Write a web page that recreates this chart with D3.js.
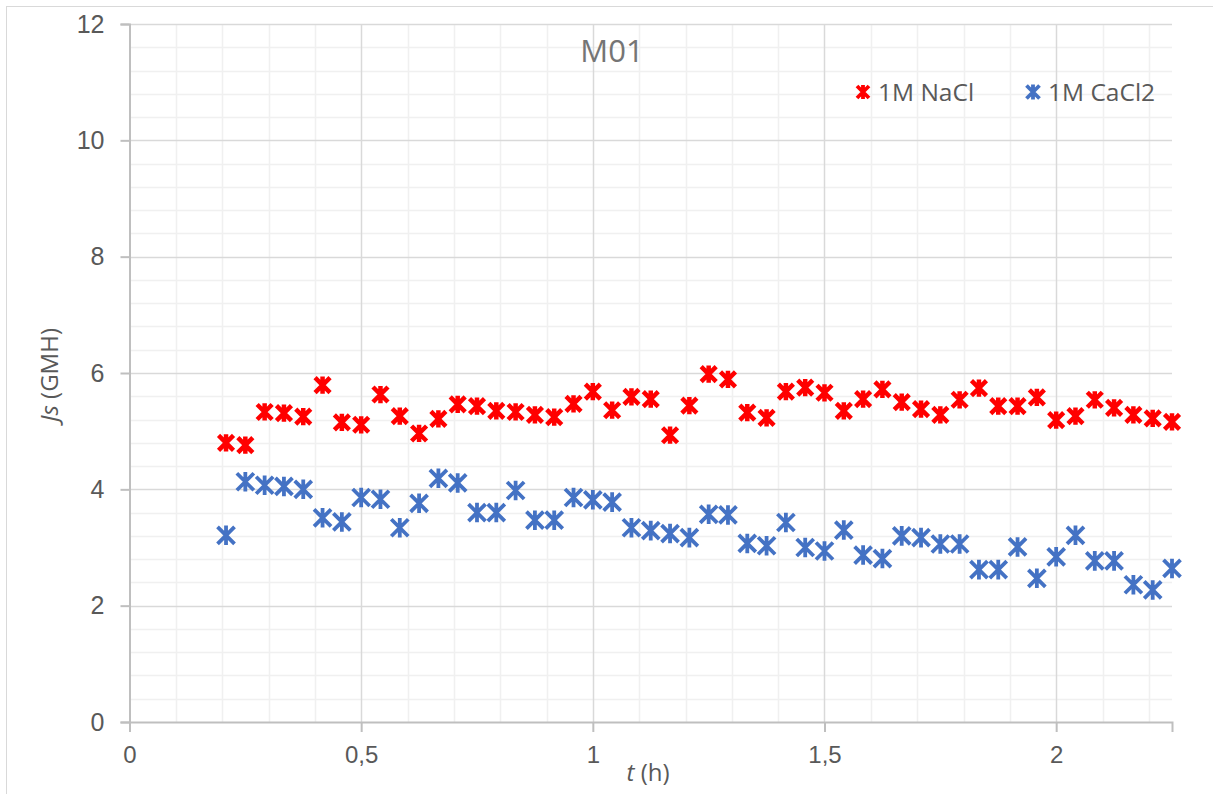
<!DOCTYPE html>
<html lang="en">
  <head>
    <meta charset="utf-8" />
    <title>M01</title>
    <script src="https://cdn.jsdelivr.net/npm/d3@7"></script>
    <style>
      body { margin: 0; background: #fff; }
    </style>
  </head>
  <body>
    <svg id="chart" width="1213" height="794"></svg>
    <script>
      // time points, every 2.5 min (1/24 h)
      const steps = d3.range(5, 55);
      const times = steps.map((k) => k / 24);

      const nacl = [4.80, 4.76, 5.33, 5.31, 5.25, 5.79, 5.15, 5.11, 5.63, 5.26,
                    4.96, 5.21, 5.46, 5.43, 5.35, 5.33, 5.28, 5.24, 5.47, 5.68,
                    5.36, 5.59, 5.55, 4.93, 5.44, 5.98, 5.89, 5.32, 5.23, 5.68,
                    5.75, 5.66, 5.35, 5.55, 5.72, 5.50, 5.38, 5.28, 5.54, 5.74,
                    5.43, 5.43, 5.58, 5.19, 5.26, 5.54, 5.40, 5.28, 5.22, 5.16];

      const cacl2 = [3.21, 4.13, 4.07, 4.05, 4.00, 3.51, 3.44, 3.86, 3.83, 3.34,
                     3.76, 4.19, 4.11, 3.60, 3.60, 3.98, 3.47, 3.47, 3.86, 3.82,
                     3.78, 3.34, 3.29, 3.24, 3.17, 3.57, 3.56, 3.07, 3.03, 3.43,
                     3.00, 2.94, 3.30, 2.87, 2.81, 3.20, 3.17, 3.06, 3.06, 2.62,
                     2.62, 3.01, 2.47, 2.84, 3.21, 2.77, 2.77, 2.36, 2.27, 2.64];

      const seriesNames = ["1M NaCl", "1M CaCl2"];
      const xTicks = [0, 0.5, 1, 1.5, 2];
      const yTicks = [0, 2, 4, 6, 8, 10, 12];

      const colors = ["#ff0000", "#4472c4"];
      const fontFam = "'Open Sans', 'DejaVu Sans', sans-serif";
      const textCol = "#595959";

      const svg = d3.select("#chart").attr("font-family", fontFam);

      // outer chart frame
      svg.append("rect")
        .attr("x", 6.5).attr("y", 6.5)
        .attr("width", 1220).attr("height", 800)
        .attr("fill", "#fff")
        .attr("stroke", "#d9d9d9");

      const plotL = 129.5, plotR = 1172, plotT = 24, plotB = 722;

      const x = d3.scaleLinear().domain([0, 2.25]).range([plotL, plotR]);
      const y = d3.scaleLinear().domain([0, 12]).range([plotB, plotT]);

      // minor grid
      const grid = svg.append("g");
      grid.selectAll(".vminor")
        .data(d3.range(1, 23).map((i) => i / 10).filter((v) => Math.abs(v * 2 - Math.round(v * 2)) > 1e-6))
        .enter().append("line")
        .attr("x1", (d) => Math.round(x(d)) + 0.5).attr("x2", (d) => Math.round(x(d)) + 0.5)
        .attr("y1", plotT).attr("y2", plotB)
        .attr("stroke", "#f0f0f0").attr("stroke-width", 1.5);

      grid.selectAll(".hminor")
        .data(d3.range(1, 30).map((i) => i * 0.4).filter((v) => Math.abs(v / 2 - Math.round(v / 2)) > 1e-6))
        .enter().append("line")
        .attr("x1", plotL).attr("x2", plotR)
        .attr("y1", (d) => Math.round(y(d)) + 0.5).attr("y2", (d) => Math.round(y(d)) + 0.5)
        .attr("stroke", "#f0f0f0").attr("stroke-width", 1.5);

      // major grid
      grid.selectAll(".vmajor")
        .data(xTicks.slice(1))
        .enter().append("line")
        .attr("x1", (d) => Math.round(x(d)) + 0.5).attr("x2", (d) => Math.round(x(d)) + 0.5)
        .attr("y1", plotT).attr("y2", plotB)
        .attr("stroke", "#d9d9d9").attr("stroke-width", 1.5);

      grid.selectAll(".hmajor")
        .data(yTicks.slice(1))
        .enter().append("line")
        .attr("x1", plotL).attr("x2", plotR)
        .attr("y1", (d) => Math.round(y(d)) + 0.5).attr("y2", (d) => Math.round(y(d)) + 0.5)
        .attr("stroke", "#d9d9d9").attr("stroke-width", 1.5);

      // axes
      const xAxis = svg.append("g")
        .attr("transform", `translate(0, ${plotB})`)
        .call(d3.axisBottom(x).tickValues(xTicks).tickSize(10).tickPadding(14)
          .tickFormat((d) => String(d).replace(".", ",")));
      xAxis.select(".domain").attr("stroke", "#bfbfbf").attr("stroke-width", 2);
      xAxis.selectAll(".tick line").attr("stroke", "#bfbfbf").attr("stroke-width", 2);
      xAxis.selectAll("text").attr("fill", textCol).attr("font-size", "24px");

      const yAxis = svg.append("g")
        .attr("transform", `translate(${plotL}, 0)`)
        .call(d3.axisLeft(y).tickValues(yTicks).tickSize(9).tickPadding(16));
      yAxis.select(".domain").attr("stroke", "#bfbfbf").attr("stroke-width", 2);
      yAxis.selectAll(".tick line").attr("stroke", "#bfbfbf").attr("stroke-width", 2);
      yAxis.selectAll("text").attr("fill", textCol).attr("font-size", "25px");

      // star marker (x with vertical bar)
      function star(s) {
        return `M${-s},${-s}L${s},${s}M${-s},${s}L${s},${-s}M0,${-s * 1.15}L0,${s * 1.15}`;
      }

      const series = [nacl, cacl2];
      series.forEach((vals, i) => {
        svg.append("g")
          .selectAll("path")
          .data(vals)
          .enter().append("path")
          .attr("transform", (d, j) => `translate(${x(times[j])}, ${y(d)})`)
          .attr("d", i === 0 ? star(7.5) : star(8.5))
          .attr("fill", "none")
          .attr("stroke", colors[i])
          .attr("stroke-width", i === 0 ? 4.5 : 3.8);
      });

      // title
      svg.append("text")
        .attr("x", 612).attr("y", 62)
        .attr("text-anchor", "middle")
        .attr("fill", "#757575")
        .attr("font-size", "31px")
        .text("M01");

      // legend
      const legX = [863, 1033];
      seriesNames.forEach((name, i) => {
        svg.append("path")
          .attr("transform", `translate(${legX[i]}, 92)`)
          .attr("d", i === 0 ? star(6) : star(6.5))
          .attr("fill", "none")
          .attr("stroke", colors[i])
          .attr("stroke-width", 3.8);
        svg.append("text")
          .attr("x", legX[i] + 15).attr("y", 101)
          .attr("fill", textCol)
          .attr("font-size", "24.5px")
          .text(name);
      });

      // axis titles
      const xt = svg.append("text")
        .attr("x", 648).attr("y", 781)
        .attr("text-anchor", "middle")
        .attr("fill", textCol)
        .attr("font-size", "24px");
      xt.append("tspan").attr("font-style", "italic").text("t");
      xt.append("tspan").text(" (h)");

      const yt = svg.append("text")
        .attr("transform", "translate(58, 375) rotate(-90)")
        .attr("text-anchor", "middle")
        .attr("fill", textCol)
        .attr("font-size", "24px");
      yt.append("tspan").attr("font-style", "italic").text("Js");
      yt.append("tspan").text(" (GMH)");
    </script>
  </body>
</html>
